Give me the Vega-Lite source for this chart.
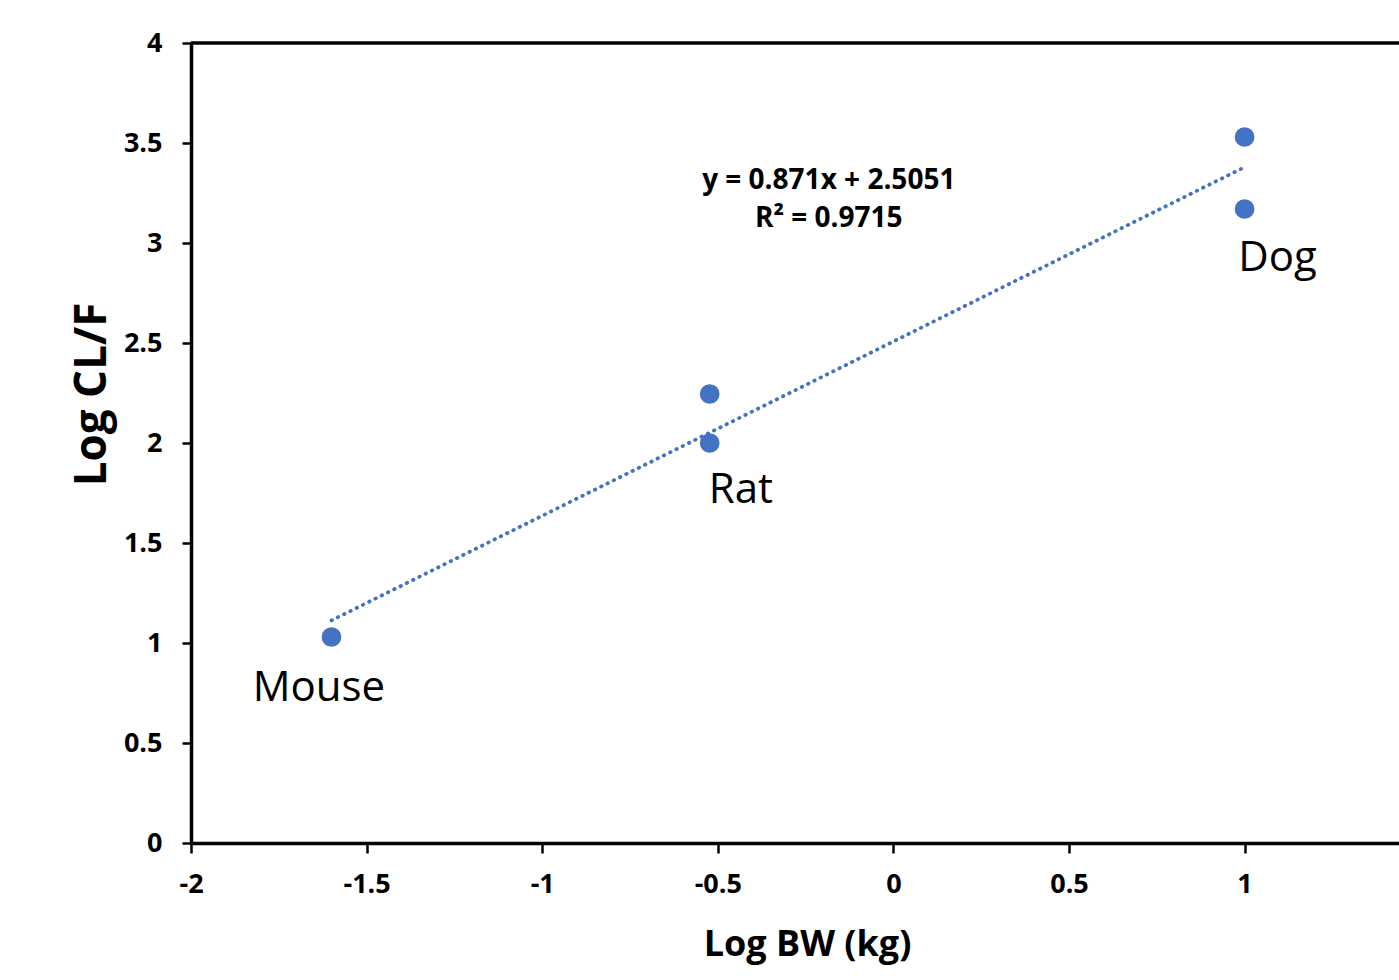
{
  "$schema": "https://vega.github.io/schema/vega-lite/v6.json",
  "autosize": {"type": "none"},
  "width": 1208,
  "height": 800,
  "padding": {"left": 191, "top": 43, "right": 0, "bottom": 137},
  "background": "white",
  "config": {"view": {"stroke": null}, "font": "Open Sans"},
  "datasets": {
    "pts": [
      {"species": "Mouse", "logbw": -1.6, "logcl": 1.03},
      {"species": "Rat", "logbw": -0.523, "logcl": 2.245},
      {"species": "Rat", "logbw": -0.523, "logcl": 2.0},
      {"species": "Dog", "logbw": 1.0, "logcl": 3.53},
      {"species": "Dog", "logbw": 1.0, "logcl": 3.17}
    ],
    "labels": [
      {"label": "Mouse", "lx": -1.636, "ly": 0.775},
      {"label": "Rat", "lx": -0.434, "ly": 1.765},
      {"label": "Dog", "lx": 1.094, "ly": 2.925}
    ],
    "eq": [
      {"t": "y = 0.871x + 2.5051", "ex": -0.184, "ey": 3.31},
      {"t": "R² = 0.9715", "ex": -0.184, "ey": 3.12}
    ]
  },
  "layer": [
    {
      "data": {"values": [{"top": 4}]},
      "mark": {"type": "rule", "color": "black", "strokeWidth": 3.5},
      "encoding": {"y": {"field": "top", "type": "quantitative", "scale": {"domain": [0, 4]}}}
    },
    {
      "data": {"name": "pts"},
      "transform": [{"regression": "logcl", "on": "logbw"}],
      "mark": {"type": "line", "color": "#4472C4", "strokeWidth": 3.8, "strokeDash": [0.5, 6.5], "strokeCap": "round"},
      "encoding": {
        "x": {"field": "logbw", "type": "quantitative"},
        "y": {"field": "logcl", "type": "quantitative"}
      }
    },
    {
      "data": {"name": "pts"},
      "mark": {"type": "circle", "color": "#4472C4", "opacity": 1, "size": 390},
      "encoding": {
        "x": {
          "field": "logbw", "type": "quantitative",
          "scale": {"domain": [-2, 1.4397], "nice": false, "zero": false},
          "axis": {
            "title": "Log BW (kg)",
            "values": [-2, -1.5, -1, -0.5, 0, 0.5, 1],
            "labelExpr": "toString(datum.value)",
            "grid": false,
            "domainColor": "black", "domainWidth": 3.5,
            "tickColor": "black", "tickWidth": 2.5, "tickSize": 10,
            "labelFont": "Open Sans", "labelFontWeight": "bold", "labelFontSize": 27, "labelColor": "black",
            "labelPadding": 18, "labelFlush": false, "labelOverlap": false,
            "titleFont": "Open Sans", "titleFontWeight": "bold", "titleFontSize": 36, "titleColor": "black",
            "titleX": 616, "titleY": 112, "titleBaseline": "alphabetic", "titleAlign": "center"
          }
        },
        "y": {
          "field": "logcl", "type": "quantitative",
          "scale": {"domain": [0, 4], "nice": false},
          "axis": {
            "title": "Log CL/F",
            "values": [0, 0.5, 1, 1.5, 2, 2.5, 3, 3.5, 4],
            "labelExpr": "toString(datum.value)",
            "grid": false,
            "domainColor": "black", "domainWidth": 3.5,
            "tickColor": "black", "tickWidth": 2.5, "tickSize": 9,
            "labelFont": "Open Sans", "labelFontWeight": "bold", "labelFontSize": 27, "labelColor": "black",
            "labelPadding": 20, "labelFlush": false, "labelOverlap": false,
            "titleFont": "Open Sans", "titleFontWeight": "bold", "titleFontSize": 44, "titleColor": "black",
            "titleX": -86, "titleY": 351, "titleBaseline": "alphabetic", "titleAlign": "center", "titleAngle": -90
          }
        }
      }
    },
    {
      "data": {"name": "labels"},
      "mark": {"type": "text", "font": "Open Sans", "fontSize": 42, "color": "black", "align": "center", "baseline": "middle"},
      "encoding": {
        "x": {"field": "lx", "type": "quantitative"},
        "y": {"field": "ly", "type": "quantitative"},
        "text": {"field": "label"}
      }
    },
    {
      "data": {"name": "eq"},
      "mark": {"type": "text", "font": "Open Sans", "fontSize": 28, "fontWeight": "bold", "color": "black", "align": "center", "baseline": "middle"},
      "encoding": {
        "x": {"field": "ex", "type": "quantitative"},
        "y": {"field": "ey", "type": "quantitative"},
        "text": {"field": "t"}
      }
    }
  ]
}
